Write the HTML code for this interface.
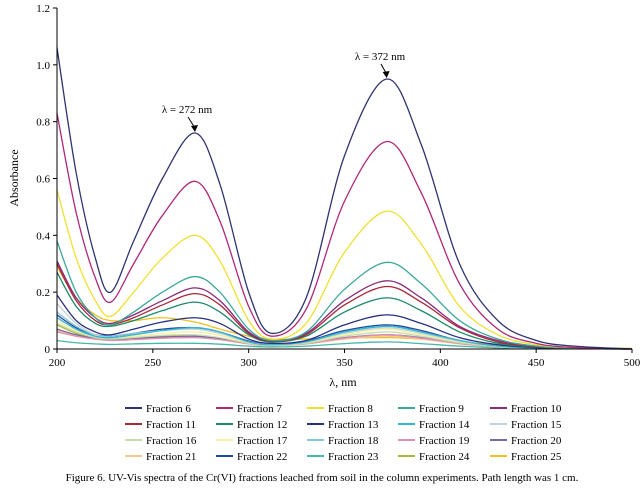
<!DOCTYPE html>
<html><head><meta charset="utf-8"><style>
body{margin:0;background:#fff}
svg{display:block;font-family:"Liberation Serif",serif}
</style></head><body>
<svg id="chart" width="644" height="490" viewBox="0 0 644 490">
<g id="plot"></g>
<g id="axes"></g>
<g id="legend"></g>
<text x="18" y="178" font-size="12" text-anchor="middle" transform="rotate(-90 18 178)">Absorbance</text>
<text x="343" y="386" font-size="12" text-anchor="middle">λ, nm</text>
<text x="187" y="113" font-size="11" text-anchor="middle">λ = 272 nm</text>
<text x="380" y="60" font-size="11" text-anchor="middle">λ = 372 nm</text>
<text x="322" y="481" font-size="11" text-anchor="middle">Figure 6. UV-Vis spectra of the Cr(VI) fractions leached from soil in the column experiments. Path length was 1 cm.</text>
</svg>
<script>
const wavelengths=[200,210,220,228,240,255,272,285,300,312,330,350,372,390,410,430,450,470,500];
const fractionNames=["Fraction 6","Fraction 7","Fraction 8","Fraction 9","Fraction 10","Fraction 11","Fraction 12","Fraction 13","Fraction 14","Fraction 15","Fraction 16","Fraction 17","Fraction 18","Fraction 19","Fraction 20","Fraction 21","Fraction 22","Fraction 23","Fraction 24","Fraction 25"];
const f6=[1.06,0.62,0.32,0.20,0.38,0.60,0.76,0.58,0.20,0.055,0.18,0.68,0.95,0.72,0.30,0.10,0.03,0.01,0];
const f7=[0.83,0.48,0.25,0.165,0.30,0.47,0.59,0.45,0.15,0.045,0.14,0.52,0.73,0.55,0.23,0.07,0.02,0.005,0];
const f8=[0.56,0.32,0.17,0.115,0.20,0.32,0.40,0.31,0.10,0.035,0.09,0.34,0.485,0.37,0.15,0.05,0.015,0.005,0];
const f9=[0.38,0.20,0.11,0.085,0.13,0.20,0.255,0.20,0.07,0.03,0.06,0.21,0.305,0.23,0.10,0.035,0.01,0.003,0];
const f10=[0.31,0.18,0.11,0.09,0.12,0.17,0.215,0.17,0.06,0.03,0.055,0.17,0.24,0.18,0.08,0.03,0.01,0.003,0];
const f11=[0.30,0.17,0.10,0.085,0.11,0.155,0.195,0.155,0.055,0.028,0.05,0.155,0.22,0.165,0.075,0.025,0.008,0.003,0];
const f12=[0.27,0.15,0.09,0.08,0.10,0.135,0.165,0.13,0.05,0.025,0.045,0.13,0.18,0.135,0.06,0.02,0.007,0.002,0];
const f13=[0.19,0.10,0.06,0.05,0.07,0.095,0.11,0.09,0.035,0.02,0.03,0.085,0.12,0.09,0.04,0.015,0.005,0.002,0];
const f14=[0.11,0.07,0.045,0.04,0.05,0.065,0.075,0.06,0.025,0.015,0.025,0.06,0.08,0.06,0.03,0.01,0.004,0.001,0];
const f15=[0.16,0.09,0.05,0.04,0.05,0.065,0.07,0.055,0.025,0.015,0.025,0.055,0.075,0.055,0.028,0.01,0.004,0.001,0];
const f16=[0.09,0.06,0.04,0.035,0.04,0.048,0.05,0.04,0.02,0.012,0.02,0.045,0.06,0.045,0.022,0.008,0.003,0.001,0];
const f17=[0.10,0.065,0.045,0.04,0.045,0.055,0.06,0.048,0.022,0.014,0.022,0.05,0.07,0.05,0.025,0.01,0.003,0.001,0];
const f18=[0.13,0.08,0.05,0.045,0.055,0.065,0.07,0.055,0.025,0.015,0.025,0.06,0.08,0.06,0.028,0.01,0.004,0.001,0];
const f19=[0.06,0.045,0.035,0.03,0.033,0.038,0.04,0.033,0.018,0.012,0.018,0.038,0.05,0.038,0.02,0.008,0.003,0.001,0];
const f20=[0.07,0.05,0.038,0.033,0.037,0.042,0.045,0.037,0.02,0.012,0.02,0.04,0.05,0.04,0.02,0.008,0.003,0.001,0];
const f21=[0.065,0.045,0.035,0.03,0.034,0.038,0.04,0.033,0.018,0.011,0.018,0.035,0.045,0.035,0.018,0.007,0.003,0.001,0];
const f22=[0.12,0.075,0.05,0.045,0.055,0.07,0.075,0.06,0.028,0.016,0.028,0.065,0.085,0.065,0.03,0.011,0.004,0.001,0];
const f23=[0.03,0.022,0.018,0.016,0.018,0.02,0.02,0.017,0.01,0.007,0.01,0.019,0.025,0.019,0.01,0.004,0.002,0.001,0];
const f24=[0.085,0.055,0.04,0.035,0.04,0.045,0.045,0.037,0.02,0.012,0.02,0.04,0.05,0.04,0.02,0.008,0.003,0.001,0];
const f25=[0.29,0.18,0.12,0.10,0.10,0.11,0.095,0.07,0.045,0.035,0.035,0.038,0.04,0.035,0.025,0.015,0.008,0.004,0.002];
const xTicks=[200,250,300,350,400,450,500];
const yTicks=[0,0.2,0.4,0.6,0.8,1.0,1.2];
const yTickLabels=["0","0.2","0.4","0.6","0.8","1.0","1.2"];

const series=[f6,f7,f8,f9,f10,f11,f12,f13,f14,f15,f16,f17,f18,f19,f20,f21,f22,f23,f24,f25];
const colors=["#2e3470","#b0277a","#f0e030","#3aa89a","#8a2a7a","#a8283a","#1a8a6a","#283080","#30b8d0","#c0d4d8","#c8dcb0","#f8f0a0","#88c8d8","#e090b0","#7868a8","#f0c890","#2048a0","#48b8a8","#a8b838","#f0c020"];
const NS="http://www.w3.org/2000/svg";
const X0=57,X1=632,Y0=349,Y1=8;
const xs=v=>X0+(v-200)/(500-200)*(X1-X0);
const ys=v=>Y0-(v/1.2)*(Y0-Y1);
function mk(tag,attrs,parent){const e=document.createElementNS(NS,tag);for(const k in attrs)e.setAttribute(k,attrs[k]);parent.appendChild(e);return e;}
function smoothPath(pts){let d="M"+pts[0][0].toFixed(2)+","+pts[0][1].toFixed(2);
for(let i=0;i<pts.length-1;i++){const p0=pts[Math.max(0,i-1)],p1=pts[i],p2=pts[i+1],p3=pts[Math.min(pts.length-1,i+2)];
const c1=[p1[0]+(p2[0]-p0[0])/6,p1[1]+(p2[1]-p0[1])/6],c2=[p2[0]-(p3[0]-p1[0])/6,p2[1]-(p3[1]-p1[1])/6];
d+=" C"+c1.map(v=>v.toFixed(2))+" "+c2.map(v=>v.toFixed(2))+" "+p2.map(v=>v.toFixed(2));}return d;}
const plot=document.getElementById('plot');
for(let s=series.length-1;s>=0;s--){
 const pts=wavelengths.map((w,i)=>[xs(w),ys(series[s][i])]);
 const p=mk('path',{d:smoothPath(pts),fill:'none',stroke:colors[s],'stroke-width':1.3},plot);
 
 
}
const axes=document.getElementById('axes');
const ax=mk('line',{x1:X0,y1:Y0,x2:X1,y2:Y0,stroke:'#000','stroke-width':1},axes);


const ay=mk('line',{x1:X0,y1:Y0,x2:X0,y2:Y1,stroke:'#000','stroke-width':1},axes);


xTicks.forEach(t=>{const x=xs(t);mk('line',{x1:x,y1:Y0,x2:x,y2:Y0+4,stroke:'#000'},axes);
 const tx=mk('text',{x:x,y:Y0+17,'font-size':11,'text-anchor':'middle'},axes);tx.textContent=t;
 
 });
yTicks.forEach((t,i)=>{const y=ys(t);mk('line',{x1:X0-4,y1:y,x2:X0,y2:y,stroke:'#000'},axes);
 const tx=mk('text',{x:X0-7,y:y+4,'font-size':11,'text-anchor':'end'},axes);tx.textContent=yTickLabels[i];
 
 });
// arrows
function arrow(x1,y1,x2,y2){mk('line',{x1:x1,y1:y1,x2:x2,y2:y2-4,stroke:'#000','stroke-width':1},axes);
 mk('path',{d:`M${x2-4},${y2-6} L${x2+3},${y2-7} L${x2},${y2} Z`,fill:'#000'},axes);}
arrow(188,117,xs(272),ys(f6[6])-1);
arrow(381,64,xs(372),ys(f6[12])-1);
const leg=document.getElementById('legend');
const colX=[125,216,307,398,490],rowY=[408,424,440,456];
fractionNames.forEach((n,i)=>{const cx=colX[i%5],cy=rowY[Math.floor(i/5)];
 const g=mk('g',{},leg);
 
 
 mk('line',{x1:cx,y1:cy,x2:cx+17,y2:cy,stroke:colors[i],'stroke-width':2},g);
 const t=mk('text',{x:cx+21,y:cy+4,'font-size':11},g);t.textContent=n;});
</script>
</body></html>
